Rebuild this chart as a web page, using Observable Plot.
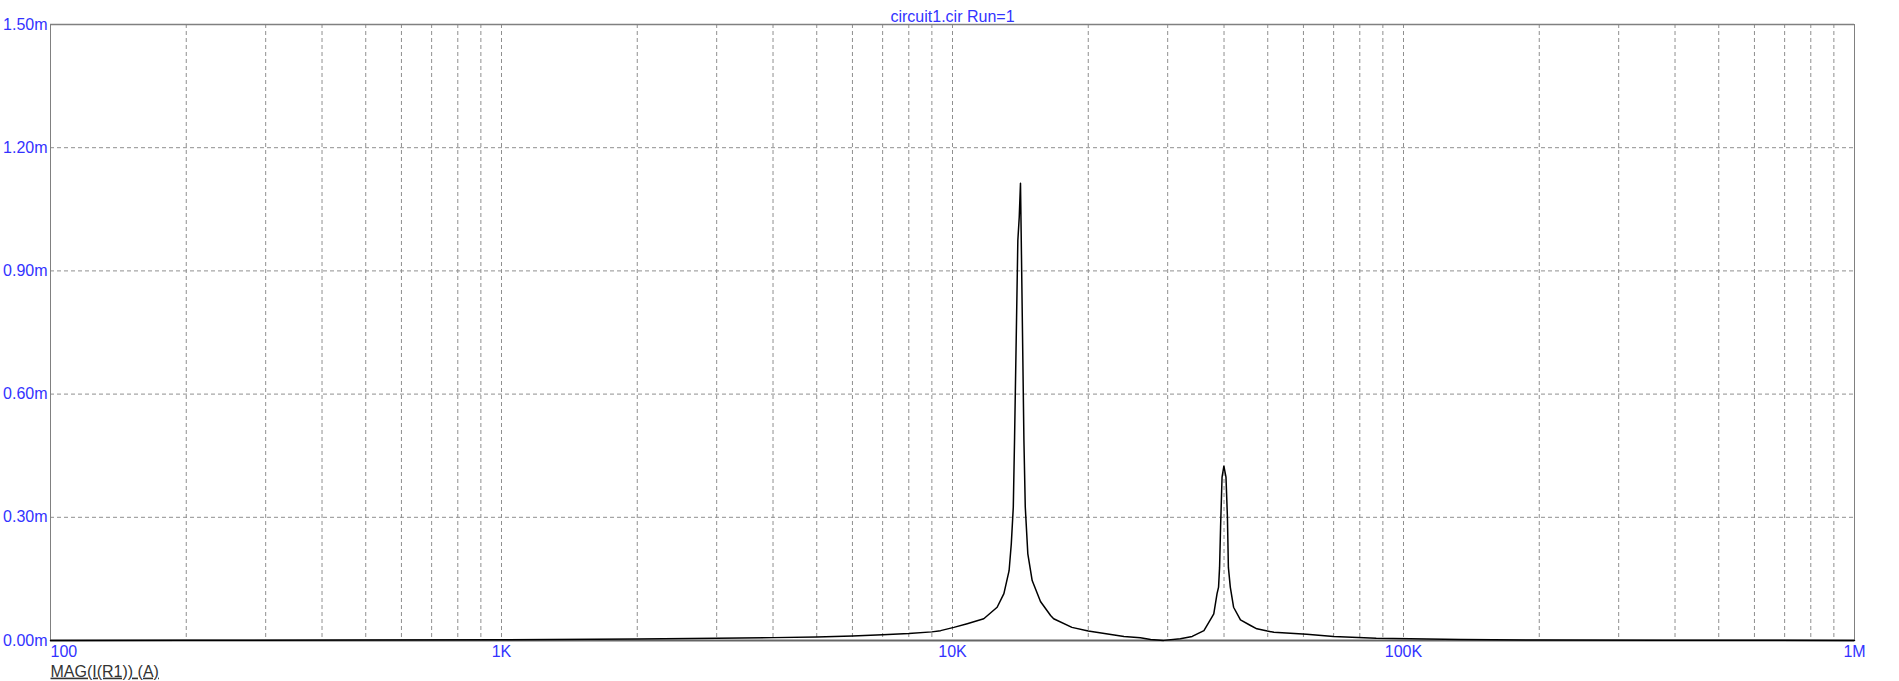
<!DOCTYPE html>
<html>
<head>
<meta charset="utf-8">
<script src="https://cdn.jsdelivr.net/npm/d3@7"></script>
<script src="https://cdn.jsdelivr.net/npm/@observablehq/plot@0.6"></script>
<style>
  html, body { margin: 0; padding: 0; background: #fff; }
  #chart svg { display: block; }
</style>
</head>
<body>
<div id="chart"></div>
<script>
// Frequency (Hz) and MAG(I(R1)) in mA
const freqHz = [
  100, 200, 500, 1000, 2000, 3000, 4000, 5000, 6000, 7000, 8000, 9000,
  9410, 10070, 10780, 11730, 12560, 13000, 13350, 13500, 13640, 13730,
  13870, 13960, 14060, 14150, 14200, 14300, 14400, 14500, 14690, 15020,
  15670, 16500, 16760, 18400, 20000, 24000, 26100, 27500, 29400, 32000,
  34000, 36100, 37600, 37960, 38600, 38900, 39100, 39300, 39600, 39970,
  40400, 40700, 40900, 41300, 42000, 43500, 45800, 47300, 49900, 51600,
  61000, 70000, 87000, 134000, 200000, 376000, 1000000
];
const magmA = [
  0.0002, 0.0004, 0.001, 0.002, 0.0038, 0.0055, 0.007, 0.0085, 0.011, 0.014, 0.017, 0.021,
  0.024, 0.032, 0.041, 0.053, 0.081, 0.114, 0.170, 0.235, 0.325, 0.495,
  0.787, 0.974, 1.031, 1.1136, 0.99, 0.738, 0.487, 0.325, 0.211, 0.146,
  0.095, 0.061, 0.053, 0.032, 0.023, 0.0097, 0.0065, 0.0024, 0.0003, 0.004,
  0.010, 0.024, 0.057, 0.065, 0.114, 0.13, 0.178, 0.276, 0.398, 0.4245,
  0.398, 0.30, 0.178, 0.13, 0.081, 0.050, 0.0365, 0.0284, 0.023, 0.020,
  0.015, 0.0097, 0.0057, 0.0024, 0.0013, 0.0005, 0.0002
];

const yTicks = [0, 0.3, 0.6, 0.9, 1.2, 1.5];
const yTickLabels = ["0.00m", "0.30m", "0.60m", "0.90m", "1.20m", "1.50m"];
const xTicks = [100, 1000, 10000, 100000, 1000000];
const xTickLabels = ["100", "1K", "10K", "100K", "1M"];
const titleText = "circuit1.cir Run=1";
const traceLabel = "MAG(I(R1)) (A)";

// log grid positions: 1..9 x each decade, excluding the frame edges
const gridX = [];
for (const dec of [100, 1000, 10000, 100000]) {
  for (let k = 1; k <= 9; k++) {
    const v = dec * k;
    if (v > 100 && v < 1000000) gridX.push(v);
  }
}
const gridY = yTicks.slice(1, -1);

const data = freqHz.map((f, i) => ({f, m: magmA[i]}));
const blue = "#3333ff";
const gridColor = "#8f8f8f";

const chart = Plot.plot({
  width: 1899,
  height: 681,
  marginTop: 24,
  marginBottom: 41,
  marginLeft: 50,
  marginRight: 45,
  style: {fontFamily: "'Liberation Sans', Arial, sans-serif", fontSize: "16px", background: "#fff"},
  x: {type: "log", domain: [100, 1000000], axis: null},
  y: {domain: [0, 1.5], axis: null},
  marks: [
    Plot.ruleX(gridX, {x: d => d, stroke: gridColor, strokeWidth: 1, strokeDasharray: "4,3"}),
    Plot.ruleY(gridY, {y: d => d, stroke: gridColor, strokeWidth: 1, strokeDasharray: "4,3"}),
    Plot.ruleX([100, 1000000], {x: d => d, stroke: "#808080", strokeWidth: 1}),
    Plot.ruleY([1.5], {y: d => d, stroke: "#808080", strokeWidth: 1.5}),
    Plot.ruleY([0], {y: d => d, stroke: "#666", strokeWidth: 2}),
    Plot.line(data, {x: "f", y: "m", stroke: "#000", strokeWidth: 1.5}),
    Plot.text(yTicks, {y: d => d, text: (d, i) => yTickLabels[i], frameAnchor: "left", textAnchor: "end", dx: -3, fill: blue, lineAnchor: "middle"}),
    Plot.text(xTicks.slice(0, 1), {x: d => d, text: (d, i) => xTickLabels[i], frameAnchor: "bottom", textAnchor: "start", dy: 11, fill: blue, lineAnchor: "middle"}),
    Plot.text(xTicks.slice(1), {x: d => d, text: (d, i) => xTickLabels[i + 1], frameAnchor: "bottom", textAnchor: "middle", dy: 11, fill: blue, lineAnchor: "middle"}),
    Plot.text([titleText], {text: d => d, frameAnchor: "top", dy: -8, fill: blue, lineAnchor: "middle"}),
    Plot.text([traceLabel], {text: d => d, frameAnchor: "bottom-left", textAnchor: "start", dy: 31, fill: "#333", lineAnchor: "middle"})
  ]
});

d3.select(chart).selectAll("text")
  .filter(function() { return this.textContent === traceLabel; })
  .style("text-decoration", "underline");

document.getElementById("chart").appendChild(chart);
</script>
</body>
</html>
